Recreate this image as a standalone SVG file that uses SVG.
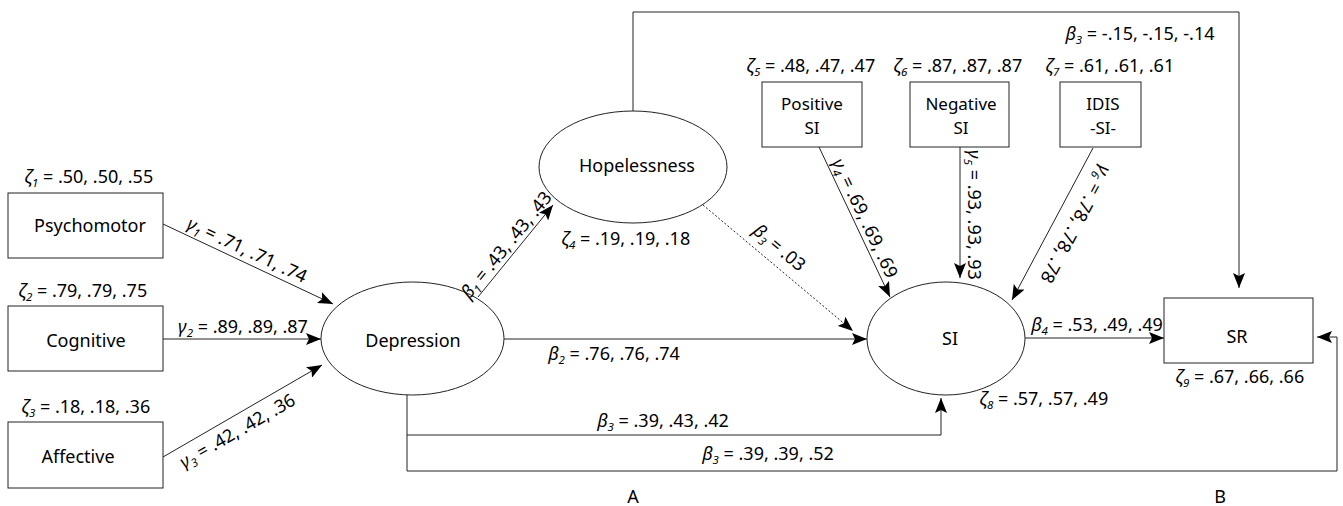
<svg xmlns="http://www.w3.org/2000/svg" width="1343" height="506" viewBox="0 0 1343 506">
<style>
.n{fill:#fff;stroke:#222;stroke-width:1}
.t{font-family:"Noto Sans","DejaVu Sans",sans-serif;font-size:18px;fill:#000;text-anchor:middle}
.t2{font-family:"Noto Sans","DejaVu Sans",sans-serif;font-size:17px;fill:#000;text-anchor:middle}
.l{font-family:"Noto Sans","DejaVu Sans",sans-serif;font-size:18px;fill:#000;text-anchor:middle}
.g{font-style:italic}
.s{font-size:11.5px;font-style:italic}
.c{fill:none;stroke:#222;stroke-width:1}
.d{stroke-dasharray:2,2}
</style>
<defs>
<marker id="a" markerUnits="userSpaceOnUse" markerWidth="16" markerHeight="12" refX="15" refY="6" orient="auto">
<path d="M0,0 L15,6 L0,12 L3,6 z" fill="#000"/>
</marker>
</defs>
<g id="connectors">
<line class="c" x1="163" y1="224" x2="333" y2="304" marker-end="url(#a)"/>
<line class="c" x1="163" y1="339" x2="321" y2="339" marker-end="url(#a)"/>
<line class="c" x1="163" y1="457" x2="322" y2="365" marker-end="url(#a)"/>
<line class="c" x1="478" y1="297" x2="553" y2="205" marker-end="url(#a)"/>
<line class="c" x1="504" y1="339" x2="867" y2="339" marker-end="url(#a)"/>
<line class="c d" x1="703" y1="205" x2="853" y2="331" marker-end="url(#a)"/>
<line class="c" x1="1025" y1="338" x2="1164" y2="338" marker-end="url(#a)"/>
<line class="c" x1="819" y1="147" x2="890" y2="297" marker-end="url(#a)"/>
<line class="c" x1="960" y1="147" x2="960" y2="278" marker-end="url(#a)"/>
<line class="c" x1="1093" y1="148" x2="1012" y2="300" marker-end="url(#a)"/>
<path class="c" d="M633,111 V12 H1239 V288" marker-end="url(#a)"/>
<path class="c" d="M407,395 V435 H941 V398" marker-end="url(#a)"/>
<path class="c" d="M407,435 V471 H1337 V337 H1317" marker-end="url(#a)"/>
</g>
<g id="psychomotor"><rect class="n" x="8" y="193" width="155" height="65"/><text class="t" x="90" y="232">Psychomotor</text></g>
<g id="cognitive"><rect class="n" x="8" y="306" width="155" height="65"/><text class="t" x="86" y="347">Cognitive</text></g>
<g id="affective"><rect class="n" x="8" y="422" width="155" height="66"/><text class="t" x="78" y="463">Affective</text></g>
<g id="depression"><ellipse class="n" cx="412.5" cy="338.5" rx="91.5" ry="56.5"/><text class="t" x="413" y="347">Depression</text></g>
<g id="hopelessness"><ellipse class="n" cx="633" cy="167" rx="94" ry="56"/><text class="t" x="637" y="172">Hopelessness</text></g>
<g id="si"><ellipse class="n" cx="946" cy="338.5" rx="79" ry="56.5"/><text class="t" x="950" y="345">SI</text></g>
<g id="sr"><rect class="n" x="1164" y="298" width="149" height="65"/><text class="t" x="1237" y="343">SR</text></g>
<g id="positive-si"><rect class="n" x="762" y="82" width="100" height="65"/><text class="t2"><tspan x="812" y="110">Positive</tspan><tspan x="812" y="134">SI</tspan></text></g>
<g id="negative-si"><rect class="n" x="910" y="82" width="99" height="65"/><text class="t2"><tspan x="961" y="110">Negative</tspan><tspan x="961" y="134">SI</tspan></text></g>
<g id="idis"><rect class="n" x="1060" y="82" width="81" height="65"/><text class="t2"><tspan x="1103" y="110">IDIS</tspan><tspan x="1103" y="134">-SI-</tspan></text></g>
<g id="labels">
<text class="l" x="89" y="183"><tspan class="g">ζ</tspan><tspan class="s" dy="4">1</tspan><tspan dy="-4"> = .50, .50, .55</tspan></text>
<text class="l" x="83" y="297"><tspan class="g">ζ</tspan><tspan class="s" dy="4">2</tspan><tspan dy="-4"> = .79, .79, .75</tspan></text>
<text class="l" x="86" y="413"><tspan class="g">ζ</tspan><tspan class="s" dy="4">3</tspan><tspan dy="-4"> = .18, .18, .36</tspan></text>
<text class="l" x="243" y="333"><tspan class="g">γ</tspan><tspan class="s" dy="4">2</tspan><tspan dy="-4"> = .89, .89, .87</tspan></text>
<text class="l" transform="translate(242,261) rotate(25.2)" y="-6"><tspan class="g">γ</tspan><tspan class="s" dy="4">1</tspan><tspan dy="-4"> = .71, .71, .74</tspan></text>
<text class="l" transform="translate(230,418) rotate(-30)" y="21"><tspan class="g">γ</tspan><tspan class="s" dy="4">3</tspan><tspan dy="-4"> = .42, .42, .36</tspan></text>
<text class="l" transform="translate(515,252) rotate(-50.8)" y="-5"><tspan class="g">β</tspan><tspan class="s" dy="4">1</tspan><tspan dy="-4"> = .43, .43, .43</tspan></text>
<text class="l" x="626" y="245"><tspan class="g">ζ</tspan><tspan class="s" dy="4">4</tspan><tspan dy="-4"> = .19, .19, .18</tspan></text>
<text class="l" transform="translate(769,260) rotate(40)" y="-10"><tspan class="g">β</tspan><tspan class="s" dy="4">3</tspan><tspan dy="-4"> = .03</tspan></text>
<text class="l" x="614" y="360"><tspan class="g">β</tspan><tspan class="s" dy="4">2</tspan><tspan dy="-4"> = .76, .76, .74</tspan></text>
<text class="l" x="663" y="427"><tspan class="g">β</tspan><tspan class="s" dy="4">3</tspan><tspan dy="-4"> = .39, .43, .42</tspan></text>
<text class="l" x="768" y="460"><tspan class="g">β</tspan><tspan class="s" dy="4">3</tspan><tspan dy="-4"> = .39, .39, .52</tspan></text>
<text class="l" x="811" y="72"><tspan class="g">ζ</tspan><tspan class="s" dy="4">5</tspan><tspan dy="-4"> = .48, .47, .47</tspan></text>
<text class="l" x="958" y="72"><tspan class="g">ζ</tspan><tspan class="s" dy="4">6</tspan><tspan dy="-4"> = .87, .87, .87</tspan></text>
<text class="l" x="1110" y="72"><tspan class="g">ζ</tspan><tspan class="s" dy="4">7</tspan><tspan dy="-4"> = .61, .61, .61</tspan></text>
<text class="l" x="1140" y="40"><tspan class="g">β</tspan><tspan class="s" dy="4">3</tspan><tspan dy="-4"> = -.15, -.15, -.14</tspan></text>
<text class="l" transform="translate(855,223) rotate(64.7)" y="-5"><tspan class="g">γ</tspan><tspan class="s" dy="4">4</tspan><tspan dy="-4"> = .69, .69, .69</tspan></text>
<text class="l" transform="translate(960,215) rotate(90)" y="-8"><tspan class="g">γ</tspan><tspan class="s" dy="4">5</tspan><tspan dy="-4"> = .93, .93, .93</tspan></text>
<text class="l" transform="translate(1058,215) rotate(118)" y="-14"><tspan class="g">γ</tspan><tspan class="s" dy="4">6</tspan><tspan dy="-4"> = .78, .78, .78</tspan></text>
<text class="l" x="1097" y="331"><tspan class="g">β</tspan><tspan class="s" dy="4">4</tspan><tspan dy="-4"> = .53, .49, .49</tspan></text>
<text class="l" x="1044" y="405"><tspan class="g">ζ</tspan><tspan class="s" dy="4">8</tspan><tspan dy="-4"> = .57, .57, .49</tspan></text>
<text class="l" x="1240" y="383"><tspan class="g">ζ</tspan><tspan class="s" dy="4">9</tspan><tspan dy="-4"> = .67, .66, .66</tspan></text>
<text class="t" x="633" y="503">A</text>
<text class="t" x="1220" y="503">B</text>
</g>
</svg>
